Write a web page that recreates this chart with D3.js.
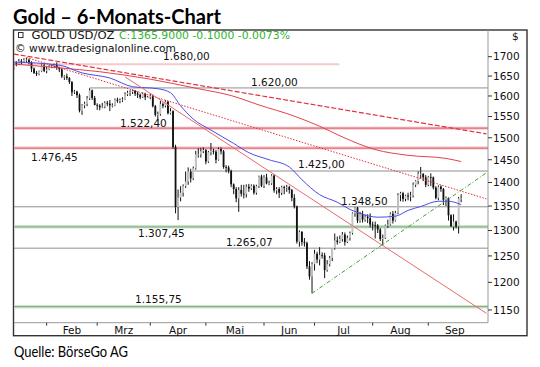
<!DOCTYPE html>
<html lang="de">
<head>
<meta charset="utf-8">
<title>Gold – 6-Monats-Chart</title>
<script src="https://d3js.org/d3.v7.min.js"></script>
<style>
  body { margin: 0; background: #fff; }
  svg { display: block; }
  .lbl { font-family: "DejaVu Sans", sans-serif; font-size: 10.5px; fill: #111; }
</style>
</head>
<body>
<div id="chart"></div>
<script>

// Daily gold bars (weekdays from 15 Jan 2013)
var opens = [
  1670,1683,1680,1688,1687,1692,1692,1685,1669,1658,1655,1662,1677,
  1663,1667,1674,1676,1678,1671,1667,1649,1649,1645,1635,1609,1611,1602,1564,1577,1581,1594,1614,1595,
  1578,1576,1572,1574,1583,1581,1577,1577,1591,1588,1590,1591,1604,1608,1610,1613,1606,1603,1597,1605,1597,
  1597,1600,1575,1554,1556,1580,1576,1586,1558,1563,1479,1348,1368,1378,1392,1402,1424,1409,1431,1462,1462,1469,
  1472,1446,1467,1470,1468,1450,1474,1469,1434,1433,1425,1396,1386,1366,1384,1376,1375,1391,1387,1393,1378,1392,1413,
  1393,1411,1398,1398,1415,1383,1386,1378,1390,1388,1390,1384,1367,1349,1278,1297,1277,1275,1230,1211,
  1234,1254,1243,1252,1251,1223,1234,1246,1265,1280,1277,1283,1292,1277,1285,1295,1335,1347,1320,1333,1322,1328,1325,
  1312,1311,1310,1302,1283,1285,1310,1312,1334,1320,1336,1373,1377,1365,1372,1370,1372,1395,1403,1419,1419,1411,
  1395,1412,1411,1389,1367,1391,1386,1363,1367,1331,1308,1318,1308,1366
];
var highs = [
  1684,1688,1694,1694,1696,1697,1695,1688,1672,1663,1664,1680,1683,
  1675,1678,1680,1682,1685,1674,1670,1652,1656,1647,1637,1615,1613,1606,1580,1586,1600,1619,1616,1600,
  1582,1580,1583,1587,1588,1590,1582,1594,1596,1594,1597,1609,1613,1614,1616,1615,1611,1606,1609,1608,1600,
  1606,1603,1578,1562,1588,1584,1590,1588,1570,1565,1484,1385,1392,1396,1424,1433,1430,1435,1470,1476,1477,1478,
  1474,1470,1488,1475,1472,1478,1478,1472,1438,1437,1428,1398,1390,1390,1395,1395,1396,1397,1396,1396,1395,1415,1417,
  1416,1419,1404,1418,1418,1390,1390,1393,1393,1395,1393,1386,1375,1351,1300,1299,1285,1278,1240,1238,
  1262,1258,1267,1257,1256,1242,1250,1265,1294,1288,1290,1297,1296,1290,1298,1337,1348,1348,1338,1340,1332,1333,1335,
  1318,1318,1313,1305,1292,1312,1322,1337,1340,1340,1377,1380,1380,1374,1378,1380,1400,1405,1424,1434,1420,1416,
  1414,1420,1413,1392,1394,1394,1388,1370,1368,1333,1333,1320,1369,1375
];
var lows = [
  1666,1675,1678,1680,1684,1686,1680,1660,1655,1650,1652,1660,1660,
  1657,1665,1670,1670,1666,1660,1645,1640,1640,1630,1600,1605,1595,1560,1554,1570,1575,1590,1590,1577,
  1566,1565,1570,1570,1575,1563,1572,1575,1583,1582,1585,1590,1600,1600,1605,1600,1595,1592,1595,1590,1595,
  1592,1572,1550,1540,1552,1570,1572,1555,1555,1475,1335,1321,1360,1370,1388,1395,1400,1405,1428,1455,1455,1465,
  1440,1443,1460,1462,1442,1448,1462,1430,1422,1420,1390,1375,1358,1338,1370,1366,1368,1380,1384,1374,1374,1388,1390,
  1388,1396,1394,1395,1378,1375,1367,1373,1375,1380,1376,1360,1345,1274,1268,1270,1268,1225,1205,1180,
  1222,1236,1232,1245,1208,1220,1230,1240,1262,1272,1275,1278,1270,1275,1280,1292,1328,1315,1316,1316,1318,1315,1306,
  1300,1284,1295,1279,1271,1283,1305,1310,1314,1318,1333,1360,1359,1360,1362,1360,1368,1390,1396,1408,1403,1390,
  1392,1392,1385,1364,1362,1380,1352,1350,1320,1308,1300,1304,1294,1358
];
var closes = [
  1683,1680,1688,1687,1692,1692,1685,1669,1658,1655,1662,1677,1663,
  1667,1674,1676,1678,1671,1667,1649,1649,1645,1635,1609,1611,1602,1564,1577,1581,1594,1614,1595,1578,
  1576,1572,1574,1583,1581,1577,1577,1591,1588,1590,1591,1604,1608,1610,1613,1606,1603,1597,1605,1597,1597,
  1600,1575,1554,1556,1580,1576,1586,1558,1563,1479,1348,1368,1378,1392,1402,1424,1409,1431,1462,1462,1469,1472,
  1446,1467,1470,1468,1450,1474,1469,1434,1433,1425,1396,1386,1366,1384,1376,1375,1391,1387,1393,1378,1392,1413,1393,
  1411,1398,1398,1415,1383,1386,1378,1390,1388,1390,1384,1367,1349,1278,1297,1277,1275,1230,1211,1234,
  1254,1243,1252,1251,1223,1234,1246,1265,1280,1277,1283,1292,1277,1285,1295,1335,1347,1320,1333,1322,1328,1325,1312,
  1311,1310,1302,1283,1285,1310,1312,1334,1320,1336,1373,1377,1365,1372,1370,1372,1395,1403,1419,1419,1411,1395,
  1412,1411,1389,1367,1391,1386,1363,1367,1331,1308,1318,1308,1366,1366
];

// Moving averages (blue = short, red = long)
var blueMaDates = ["2013-01-15","2013-02-08","2013-02-21","2013-03-08","2013-03-21","2013-04-04","2013-04-11","2013-04-17",
  "2013-04-24","2013-05-03","2013-05-16","2013-05-24","2013-06-05","2013-06-17","2013-06-24","2013-07-03","2013-07-12",
  "2013-07-19","2013-07-25","2013-08-05","2013-08-14","2013-08-21","2013-08-28","2013-09-06","2013-09-12","2013-09-19"];
var blueMaValues = [1686,1678,1658,1645,1623,1618,1608,1576,1544,1518,1487,1466,1450,1434,1406,1374,1358,
  1343,1335,1327,1329,1341,1349,1360,1360,1353];
var redMaDates = ["2013-01-15","2013-02-08","2013-03-04","2013-04-01","2013-04-26","2013-05-15","2013-05-30",
  "2013-06-19","2013-07-03","2013-07-16","2013-08-02","2013-08-21","2013-09-11","2013-09-19"];
var redMaValues = [1681,1671,1661,1642,1618,1601,1578,1551,1527,1502,1473,1460,1453,1446];

// Trend lines: start / end
var trendFromDates = ["2013-01-15","2013-01-22","2013-03-18","2013-06-28"];
var trendFromPrices = [1707,1698,1648,1180];
var trendToDates = ["2013-10-03","2013-10-03","2013-10-03","2013-10-03"];
var trendToPrices = [1509,1365,1144,1421];

// Horizontal support / resistance levels
var levelValues = [1680.00,1620.00,1522.40,1476.45,1425.00,1348.50,1307.45,1265.07,1155.75];
var levelKinds = ["pink","gray","red","red","gray","gray","green","gray","green"];
var levelFromDates = ["2013-01-15","2013-02-26","2013-01-15","2013-01-15","2013-04-24","2013-01-15","2013-01-15","2013-01-15","2013-01-15"];
var levelToDates = ["2013-07-12","2013-10-03","2013-10-03","2013-10-03","2013-10-03","2013-10-03","2013-10-03","2013-10-03","2013-10-03"];

var yTicks = [1150,1200,1250,1300,1350,1400,1450,1500,1550,1600,1650,1700];
var monthLabels = ["Feb","Mrz","Apr","Mai","Jun","Jul","Aug","Sep"];

// German number format for level labels
var de = d3.formatLocale({decimal: ",", thousands: ".", grouping: [3], currency: ["", "€"]});
var fmtLevel = de.format(",.2f");

// weekday axis
var fmtDay = d3.timeFormat("%Y-%m-%d");
var days = d3.timeDay.range(new Date(2013,0,15), new Date(2013,9,4)).filter(function(d){ return d.getDay() % 6 !== 0; });
var dayKeys = days.map(fmtDay);
var barDates = dayKeys.slice(0, closes.length);

var plotLeft = 14, plotRight = 488, plotTop = 30, plotBottom = 322.7;

var x = d3.scalePoint().domain(dayKeys).range([13.8, 486.4]);
var y = d3.scaleLog().domain([1127.6, 1771.5]).range([plotBottom, plotTop]);

var svg = d3.select("#chart").append("svg")
  .attr("width", 540)
  .attr("height", 367);

svg.append("defs").append("clipPath").attr("id", "plotClip")
  .append("rect").attr("x", plotLeft).attr("y", plotTop)
  .attr("width", plotRight - plotLeft).attr("height", plotBottom - plotTop);

// title and source
svg.append("text").attr("x", 13).attr("y", 23.5)
  .attr("textLength", 208).attr("lengthAdjust", "spacingAndGlyphs")
  .style("font-family", "Lato, sans-serif").style("font-weight", "bold").style("font-size", "20px")
  .text("Gold – 6-Monats-Chart");
svg.append("text").attr("x", 14).attr("y", 357)
  .attr("textLength", 114).attr("lengthAdjust", "spacingAndGlyphs")
  .style("font-family", "Lato, sans-serif").style("font-size", "14.5px")
  .text("Quelle: BörseGo AG");

// frame
svg.append("rect").attr("x", 13.5).attr("y", 30).attr("width", 513.5).attr("height", 305.7)
  .attr("fill", "none").attr("stroke", "#333").attr("stroke-width", 1.4);

var plot = svg.append("g").attr("clip-path", "url(#plotClip)");

// levels
var levelG = plot.append("g");
levelValues.forEach(function(v, i){
  var x1 = x(levelFromDates[i]), x2 = x(levelToDates[i]) + 2, yy = y(v);
  if (levelFromDates[i] === dayKeys[0]) x1 = plotLeft;
  var k = levelKinds[i];
  if (k === "red" || k === "green") {
    levelG.append("line").attr("x1", x1).attr("x2", x2).attr("y1", yy).attr("y2", yy)
      .attr("stroke", k === "red" ? "#f7d3d5" : "#cfe3cf").attr("stroke-width", 3.6);
    levelG.append("line").attr("x1", x1).attr("x2", x2).attr("y1", yy).attr("y2", yy)
      .attr("stroke", k === "red" ? "#e06a78" : "#86b486").attr("stroke-width", 1.2);
  } else {
    levelG.append("line").attr("x1", x1).attr("x2", x2).attr("y1", yy).attr("y2", yy)
      .attr("stroke", k === "pink" ? "#f3c9c9" : "#8f8f8f").attr("stroke-width", k === "pink" ? 2 : 1);
  }
});

// candles
var idx = d3.range(closes.length);
plot.append("g").selectAll("line").data(idx).enter().append("line")
  .attr("x1", function(i){ return x(barDates[i]); })
  .attr("x2", function(i){ return x(barDates[i]); })
  .attr("y1", function(i){ return y(highs[i]); })
  .attr("y2", function(i){ return y(lows[i]); })
  .attr("stroke", "#111").attr("stroke-width", 1);
plot.append("g").selectAll("rect").data(idx).enter().append("rect")
  .attr("x", function(i){ return x(barDates[i]) - 0.9; })
  .attr("width", 1.8)
  .attr("y", function(i){ return y(Math.max(opens[i], closes[i])); })
  .attr("height", function(i){ return Math.max(0.8, Math.abs(y(opens[i]) - y(closes[i]))); })
  .attr("fill", function(i){ return closes[i] >= opens[i] ? "#c4c4c4" : "#111"; });

// moving averages
var maLine = d3.line()
  .x(function(d){ return x(d[0]); })
  .y(function(d){ return y(d[1]); })
  .curve(d3.curveMonotoneX);
plot.append("path").datum(d3.zip(redMaDates, redMaValues)).attr("d", maLine)
  .attr("fill", "none").attr("stroke", "#e0424e").attr("stroke-width", 1);
plot.append("path").datum(d3.zip(blueMaDates, blueMaValues)).attr("d", maLine)
  .attr("fill", "none").attr("stroke", "#4b4be6").attr("stroke-width", 1);

// trend lines
var trendStyles = [
  {stroke: "#e0303c", dash: "5,2", w: 1.2},
  {stroke: "#e0303c", dash: "1.5,1.5", w: 1},
  {stroke: "#e86a6a", dash: null, w: 1},
  {stroke: "#3f9f3f", dash: "4,2,1,2", w: 1}
];
trendFromDates.forEach(function(d, i){
  plot.append("line")
    .attr("x1", x(d)).attr("y1", y(trendFromPrices[i]))
    .attr("x2", x(trendToDates[i])).attr("y2", y(trendToPrices[i]))
    .attr("stroke", trendStyles[i].stroke)
    .attr("stroke-width", trendStyles[i].w)
    .attr("stroke-dasharray", trendStyles[i].dash);
});

// level labels: [x left, baseline offset from line]
var labelPos = [[163,-4],[251,-2],[120,-1.5],[31,13],[298,-3],[341,-2],[138,10],[226,-2],[135,-4]];
levelValues.forEach(function(v, i){
  svg.append("text").attr("class", "lbl")
    .attr("x", labelPos[i][0]).attr("y", y(v) + labelPos[i][1])
    .text(fmtLevel(v));
});

// axes lines
svg.append("line").attr("x1", plotLeft).attr("x2", plotRight).attr("y1", plotBottom).attr("y2", plotBottom)
  .attr("stroke", "#999").attr("stroke-width", 1);
svg.append("line").attr("x1", plotRight).attr("x2", plotRight).attr("y1", plotTop).attr("y2", plotBottom)
  .attr("stroke", "#999").attr("stroke-width", 1);

// right price axis
var yAxisG = svg.append("g");
yTicks.forEach(function(t){
  yAxisG.append("line").attr("x1", plotRight).attr("x2", plotRight + 4).attr("y1", y(t)).attr("y2", y(t))
    .attr("stroke", "#333");
  yAxisG.append("text").attr("class", "lbl").attr("x", plotRight + 5).attr("y", y(t) + 3.8).text(t);
});
svg.append("text").attr("class", "lbl").attr("x", 512).attr("y", 40).text("$");

// month axis
var monthStarts = d3.timeMonth.range(new Date(2013,1,1), new Date(2013,9,2));
var monthX = monthStarts.map(function(m){
  var k = dayKeys.find(function(s){ return s >= fmtDay(m); });
  return x(k);
});
monthLabels.forEach(function(lab, i){
  svg.append("line").attr("x1", monthX[i]).attr("x2", monthX[i]).attr("y1", plotBottom).attr("y2", plotBottom + 3)
    .attr("stroke", "#333");
  svg.append("text").attr("class", "lbl").attr("text-anchor", "middle")
    .attr("x", (monthX[i] + monthX[i + 1]) / 2).attr("y", 334).text(lab);
});

// header
svg.append("rect").attr("x", 18.5).attr("y", 32.5).attr("width", 4.5).attr("height", 5)
  .attr("fill", "none").attr("stroke", "#333").attr("stroke-width", 1);
svg.append("text").attr("class", "lbl").attr("x", 31.5).attr("y", 38.5)
  .attr("textLength", 83).attr("lengthAdjust", "spacingAndGlyphs").text("GOLD USD/OZ");
svg.append("text").attr("class", "lbl").attr("x", 119).attr("y", 38.5).style("fill", "#2fb52f")
  .attr("textLength", 171).attr("lengthAdjust", "spacingAndGlyphs").text("C:1365.9000 -0.1000 -0.0073%");
svg.append("text").attr("class", "lbl").attr("x", 15).attr("y", 51.5)
  .attr("textLength", 161).attr("lengthAdjust", "spacingAndGlyphs").text("© www.tradesignalonline.com");

</script>
</body>
</html>
